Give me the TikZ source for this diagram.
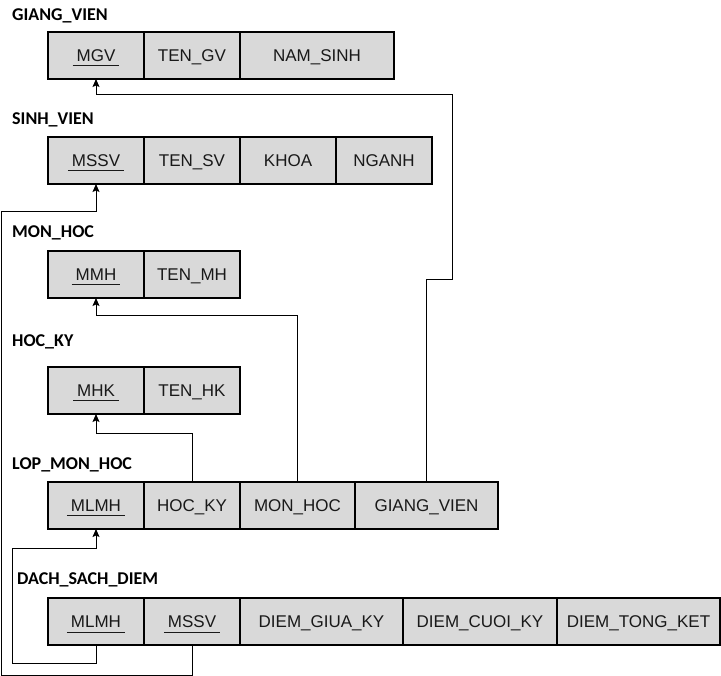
\documentclass[tikz,border=0pt]{standalone}
\usepackage{fontspec}
\setmainfont{Liberation Sans}
\newfontfamily\headfont{Carlito}
\usetikzlibrary{positioning,arrows.meta}
\definecolor{cellgray}{HTML}{D9D9D9}
% underlined key attribute
\newcommand{\keyattr}[1]{\setbox0=\hbox{\hspace{4pt}#1\hspace{4pt}}\rlap{\smash{\rule[-4.8pt]{\wd0}{0.9pt}}}\box0}

\begin{document}
\begin{tikzpicture}[x=1pt,y=-1pt,
	cell/.style={draw, fill=cellgray, line width=1.1pt, minimum height=47pt, minimum width=96pt,
		inner sep=0pt, outer sep=0pt, text height=12.2pt, text depth=0pt,
		font=\fontsize{17}{20}\selectfont, text=black!90},
	title/.style={anchor=base west, inner sep=0pt, font=\headfont\bfseries\fontsize{18}{21}\selectfont},
	fk/.style={line width=1pt, -{Stealth[length=8pt,width=7pt,inset=1.5pt]}}]
	\useasboundingbox (0,0) rectangle (721,676);
	% GIANG_VIEN
	\node[title] (gvT) at (12,21) {GIANG\_VIEN};
	\node[cell, anchor=north west] (gv1) at (48,32) {\keyattr{MGV}};
	\node[cell, right=0pt of gv1] (gv2) {TEN\_GV};
	\node[cell, right=0pt of gv2, minimum width=154pt] (gv3) {NAM\_SINH};
	% SINH_VIEN
	\node[title] (svT) at (12,125) {SINH\_VIEN};
	\node[cell, anchor=north west] (sv1) at (48,137) {\keyattr{MSSV}};
	\node[cell, right=0pt of sv1] (sv2) {TEN\_SV};
	\node[cell, right=0pt of sv2] (sv3) {KHOA};
	\node[cell, right=0pt of sv3] (sv4) {NGANH};
	% MON_HOC
	\node[title] (mhT) at (12,238) {MON\_HOC};
	\node[cell, anchor=north west] (mh1) at (48,251) {\keyattr{MMH}};
	\node[cell, right=0pt of mh1] (mh2) {TEN\_MH};
	% HOC_KY
	\node[title] (hkT) at (12,347) {HOC\_KY};
	\node[cell, anchor=north west] (hk1) at (48,367) {\keyattr{MHK}};
	\node[cell, right=0pt of hk1] (hk2) {TEN\_HK};
	% LOP_MON_HOC
	\node[title] (lopT) at (12,470) {LOP\_MON\_HOC};
	\node[cell, anchor=north west] (lop1) at (48,482) {\keyattr{MLMH}};
	\node[cell, right=0pt of lop1] (lop2) {HOC\_KY};
	\node[cell, right=0pt of lop2, minimum width=115pt] (lop3) {MON\_HOC};
	\node[cell, right=0pt of lop3, minimum width=143pt] (lop4) {GIANG\_VIEN};
	% DACH_SACH_DIEM
	\node[title] (dsdT) at (17,584.5) {DACH\_SACH\_DIEM};
	\node[cell, anchor=north west] (dsd1) at (48,598) {\keyattr{MLMH}};
	\node[cell, right=0pt of dsd1] (dsd2) {\keyattr{MSSV}};
	\node[cell, right=0pt of dsd2, minimum width=163pt] (dsd3) {DIEM\_GIUA\_KY};
	\node[cell, right=0pt of dsd3, minimum width=154pt] (dsd4) {DIEM\_CUOI\_KY};
	\node[cell, right=0pt of dsd4, minimum width=163pt] (dsd5) {DIEM\_TONG\_KET};
	% Foreign keys
	\draw[fk] (lop4.north) |- (452,280) -- (452,95) -| (gv1.south);
	\draw[fk] (lop3.north) -- (lop3.north |- 0,316) -| (mh1.south);
	\draw[fk] (lop2.north) -- (lop2.north |- 0,434) -| (hk1.south);
	\draw[fk] (dsd2.south) -- ++(0,30) -| (1,212) -| (sv1.south);
	\draw[fk] (dsd1.south) -- ++(0,18) -| (12,548) -| (lop1.south);
\end{tikzpicture}
\end{document}
